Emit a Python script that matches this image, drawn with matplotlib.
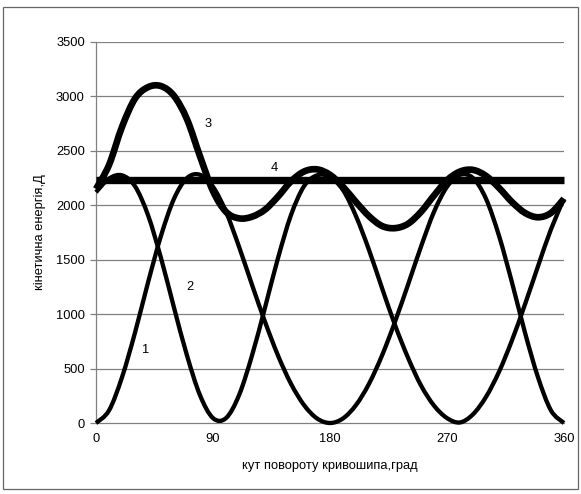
import numpy as np
import matplotlib
matplotlib.use("Agg")
import matplotlib.pyplot as plt
from matplotlib.path import Path
from matplotlib.patches import PathPatch, Rectangle

plt.rcParams['font.family'] = ['Liberation Sans', 'DejaVu Sans']

# crank angle, degrees
angles = [0, 10, 20, 30, 40, 50, 60, 70, 80, 90, 100, 110, 120, 130, 140, 150, 160, 170, 180,
          190, 200, 210, 220, 230, 240, 250, 260, 270, 280, 290, 300, 310, 320, 330, 340, 350, 360]

# kinetic energy of the first link
energy_1 = [0, 115, 420, 830, 1290, 1720, 2060, 2250, 2280, 2170, 1940, 1620, 1270, 930, 620, 360, 165, 42, 0,
            42, 165, 360, 620, 930, 1270, 1620, 1940, 2170, 2280, 2250, 2060, 1720, 1290, 830, 420, 115, 0]

# kinetic energy of the second link
energy_2 = [2120, 2245, 2275, 2175, 1910, 1515, 1060, 620, 255, 45, 45, 255, 620, 1060, 1515, 1910, 2175, 2275, 2260,
            2140, 1900, 1590, 1240, 900, 600, 345, 160, 45, 5, 80, 240, 470, 760, 1090, 1440, 1780, 2060]

# total kinetic energy
energy_3 = [2150, 2370, 2720, 2980, 3085, 3095, 3005, 2790, 2450, 2130, 1940, 1880, 1895, 1960, 2080, 2220, 2310, 2330, 2280,
            2170, 2030, 1900, 1810, 1790, 1830, 1940, 2090, 2230, 2310, 2325, 2270, 2160, 2030, 1930, 1890, 1930, 2060]

# mean level
energy_4 = 2230

x_ticks = [0, 90, 180, 270, 360]
y_ticks = [0, 500, 1000, 1500, 2000, 2500, 3000, 3500]


def smooth_path(x, y):
    # Catmull-Rom curve through the points, as cubic Bezier segments
    pts = np.column_stack([x, y]).astype(float)
    verts = [pts[0]]
    codes = [Path.MOVETO]
    n = len(pts)
    for i in range(n - 1):
        p0 = pts[max(i - 1, 0)]
        p1 = pts[i]
        p2 = pts[i + 1]
        p3 = pts[min(i + 2, n - 1)]
        verts += [p1 + (p2 - p0) / 6, p2 - (p3 - p1) / 6, p2]
        codes += [Path.CURVE4] * 3
    return Path(verts, codes)


fig = plt.figure(figsize=(5.81, 4.94), dpi=100)
fig.patches.append(Rectangle((3 / 581, 5 / 494), 575 / 581, 482 / 494, transform=fig.transFigure,
                             fill=False, edgecolor='#666666', lw=0.9))

ax = fig.add_axes([96 / 581, 71 / 494, 468 / 581, 381 / 494])
ax.set_xlim(0, 360)
ax.set_ylim(0, 3500)

for yv in y_ticks[1:]:
    ax.axhline(yv, color='#808080', lw=0.9, zorder=0)

for s in ['top', 'right']:
    ax.spines[s].set_visible(False)
for s in ['left', 'bottom']:
    ax.spines[s].set_color('#808080')
    ax.spines[s].set_linewidth(0.9)

for ys, w in [(energy_1, 3.1), (energy_2, 3.1), (energy_3, 4.8)]:
    ax.add_patch(PathPatch(smooth_path(angles, ys), fill=False, edgecolor='black', lw=w,
                           capstyle='butt', joinstyle='round', clip_on=False, zorder=3))
ax.plot([angles[0], angles[-1]], [energy_4, energy_4], color='black', lw=5.3,
        solid_capstyle='butt', clip_on=False, zorder=4)

ax.text(38, 670, '1', fontsize=9.3, ha='center', va='center')
ax.text(72, 1250, '2', fontsize=9.3, ha='center', va='center')
ax.text(86, 2750, '3', fontsize=9.3, ha='center', va='center')
ax.text(137, 2340, '4', fontsize=9.3, ha='center', va='center')

ax.set_xticks(x_ticks)
ax.set_yticks(y_ticks)
ax.tick_params(axis='x', length=0, pad=7, labelsize=9.3)
ax.tick_params(axis='y', length=4, width=0.9, color='#808080', pad=4, labelsize=9.3)

ax.set_xlabel('кут повороту кривошипа,град', fontsize=9.3, labelpad=11)
ax.set_ylabel('кінетична енергія,Д', fontsize=9.3, labelpad=7)

fig.savefig('out.png', dpi=100, facecolor='white')
